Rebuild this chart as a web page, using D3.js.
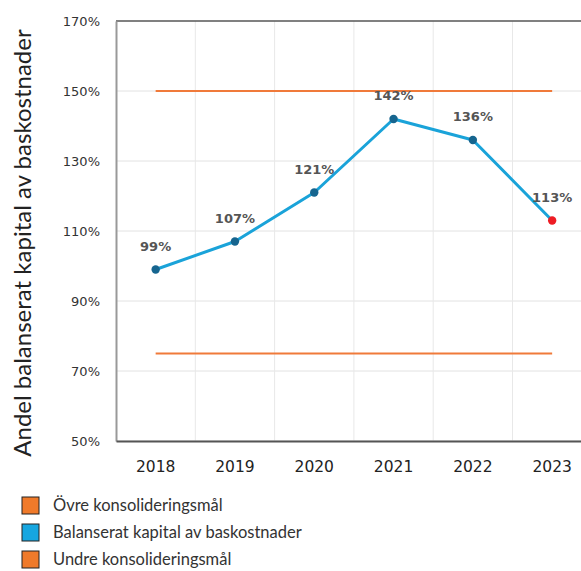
<!DOCTYPE html>
<html>
<head>
<meta charset="utf-8">
<script src="https://cdn.jsdelivr.net/npm/d3@7"></script>
<style>
  body { margin: 0; background: #fff; }
  svg { display: block; }
</style>
</head>
<body>
<div id="chart"></div>
<script>
// data
const years = ["2018", "2019", "2020", "2021", "2022", "2023"];
const capitalShare = [99, 107, 121, 142, 136, 113];
const upperTarget = [150, 150, 150, 150, 150, 150];
const lowerTarget = [75, 75, 75, 75, 75, 75];
const yTicks = [50, 70, 90, 110, 130, 150, 170];
const legendItems = [
  { label: "Övre konsolideringsmål", color: "#f07a2a" },
  { label: "Balanserat kapital av baskostnader", color: "#16a6e0" },
  { label: "Undre konsolideringsmål", color: "#f07a2a" }
];

const W = 581, H = 571;
const plot = { left: 116, top: 21, bottom: 441, step: 79.3 };

const svg = d3.select("#chart").append("svg")
  .attr("width", W)
  .attr("height", H);

const x = d3.scaleBand()
  .domain(years)
  .range([plot.left, plot.left + plot.step * years.length])
  .padding(0);

const y = d3.scaleLinear()
  .domain([50, 170])
  .range([plot.bottom, plot.top]);

const cx = d => x(d) + x.bandwidth() / 2;

// horizontal grid
svg.append("g")
  .selectAll("line")
  .data(yTicks)
  .join("line")
  .attr("x1", plot.left)
  .attr("x2", W)
  .attr("y1", d => y(d))
  .attr("y2", d => y(d))
  .attr("stroke", "#e2e2e2")
  .attr("stroke-width", 1);

// vertical grid at band edges
svg.append("g")
  .selectAll("line")
  .data(years.slice(1))
  .join("line")
  .attr("x1", d => x(d))
  .attr("x2", d => x(d))
  .attr("y1", plot.top)
  .attr("y2", plot.bottom)
  .attr("stroke", "#e8e8e8")
  .attr("stroke-width", 1);

// top border
svg.append("line")
  .attr("x1", plot.left).attr("x2", W)
  .attr("y1", plot.top).attr("y2", plot.top)
  .attr("stroke", "#111").attr("stroke-width", 1.2);

// y axis
const yAxis = d3.axisLeft(y)
  .tickValues(yTicks)
  .tickSize(0)
  .tickPadding(16)
  .tickFormat(d => d + "%");

const yg = svg.append("g")
  .attr("transform", `translate(${plot.left},0)`)
  .call(yAxis);
yg.select(".domain").attr("stroke", "#999").attr("stroke-width", 2);
yg.selectAll("text")
  .attr("font-family", "DejaVu Sans, sans-serif")
  .attr("font-size", 13)
  .attr("fill", "#333");

// x axis
const xAxis = d3.axisBottom(x).tickSize(0).tickPadding(20);
const xg = svg.append("g")
  .attr("transform", `translate(0,${plot.bottom})`)
  .call(xAxis);
xg.select(".domain").attr("stroke", "#555").attr("stroke-width", 2);
xg.selectAll("text")
  .attr("font-family", "DejaVu Sans, sans-serif")
  .attr("font-size", 15.5)
  .attr("fill", "#222");

// target lines
const line = d3.line()
  .x((d, i) => cx(years[i]))
  .y(d => y(d));

[upperTarget, lowerTarget].forEach(s => {
  svg.append("path")
    .datum(s)
    .attr("d", line)
    .attr("fill", "none")
    .attr("stroke", "#f07a3a")
    .attr("stroke-width", 2);
});

// capital series
svg.append("path")
  .datum(capitalShare)
  .attr("d", line)
  .attr("fill", "none")
  .attr("stroke", "#1aa3d9")
  .attr("stroke-width", 3)
  .attr("stroke-linejoin", "round");

svg.append("g")
  .selectAll("circle")
  .data(capitalShare)
  .join("circle")
  .attr("cx", (d, i) => cx(years[i]))
  .attr("cy", d => y(d))
  .attr("r", 4.2)
  .attr("fill", (d, i) => i === capitalShare.length - 1 ? "#ee1c24" : "#16658f");

// value labels
svg.append("g")
  .selectAll("text")
  .data(capitalShare)
  .join("text")
  .attr("x", (d, i) => cx(years[i]))
  .attr("y", d => y(d) - 19)
  .attr("text-anchor", "middle")
  .attr("font-family", "DejaVu Sans, sans-serif")
  .attr("font-size", 13)
  .attr("font-weight", "bold")
  .attr("fill", "#555")
  .text(d => d + "%");

// y title
svg.append("text")
  .attr("transform", `translate(31,${(plot.top + plot.bottom) / 2 + 12}) rotate(-90)`)
  .attr("text-anchor", "middle")
  .attr("font-family", "Lato, sans-serif")
  .attr("font-size", 24)
  .attr("fill", "#222")
  .text("Andel balanserat kapital av baskostnader");

// legend
const lg = svg.append("g").attr("transform", "translate(22,497)");
const leg = lg.selectAll("g")
  .data(legendItems)
  .join("g")
  .attr("transform", (d, i) => `translate(0,${i * 27})`);
leg.append("rect")
  .attr("width", 17).attr("height", 17)
  .attr("fill", d => d.color)
  .attr("stroke", "#222").attr("stroke-width", 1);
leg.append("text")
  .attr("x", 31)
  .attr("y", 14)
  .attr("font-family", "Lato, sans-serif")
  .attr("font-size", 16.5)
  .attr("fill", "#333")
  .text(d => d.label);
</script>
</body>
</html>
